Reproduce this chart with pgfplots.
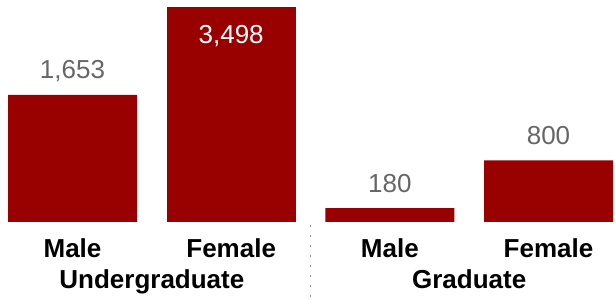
\documentclass[border=0pt]{standalone}
\usepackage{pgfplots}
\pgfplotsset{compat=1.18}
\usepackage{fontspec}
\setmainfont{Liberation Sans}
\definecolor{barred}{HTML}{990000}
\definecolor{valgray}{HTML}{666666}
\begin{document}
\begin{tikzpicture}
\path[use as bounding box] (0,-77bp) rectangle (615bp,222bp);
\begin{axis}[
  at={(0,0)}, anchor=south west,
  width=615bp, height=214bp, scale only axis,
  xmin=-0.457, xmax=3.419, ymin=0, ymax=2780,
  axis line style={draw=none},
  major tick length=0pt,
  ytick=\empty,
  xtick={0,1,2,3},
  xticklabels={Male,Female,Male,Female},
  xticklabel style={font=\fontsize{26bp}{30bp}\selectfont\bfseries, anchor=base, yshift=-35bp, inner sep=0pt},
  ybar, bar width=129bp, bar shift=0pt,
  /pgf/number format/assume math mode=true,
  /pgf/number format/1000 sep={,},
]
\addplot[fill=barred, draw=none,
  nodes near coords,
  every node near coord/.append style={anchor=base, yshift=16bp, inner sep=0pt,
     text=valgray, font=\fontsize{26bp}{30bp}\selectfont}]
  coordinates {(0,1653) (2,180) (3,800)};
\addplot[fill=barred, draw=none] coordinates {(1,3498)};
\coordinate (lab2) at (axis cs:1,2780);
\coordinate (ug) at (axis cs:0.5,0);
\coordinate (gr) at (axis cs:2.5,0);
\coordinate (sep) at (axis cs:1.5,0);
\end{axis}
\node[anchor=base, inner sep=0pt, text=white, font=\fontsize{26bp}{30bp}\selectfont] at ([yshift=-36bp]lab2) {3,498};
\node[anchor=base, inner sep=0pt, font=\fontsize{26bp}{30bp}\selectfont\bfseries] at ([yshift=-66bp]ug) {Undergraduate};
\node[anchor=base, inner sep=0pt, font=\fontsize{26bp}{30bp}\selectfont\bfseries] at ([yshift=-66bp]gr) {Graduate};
\draw[color=gray!90, line width=1.5bp, dash pattern=on 1.5bp off 8.5bp] ([yshift=-3bp]sep) -- ([yshift=-76bp]sep);
\end{tikzpicture}
\end{document}
